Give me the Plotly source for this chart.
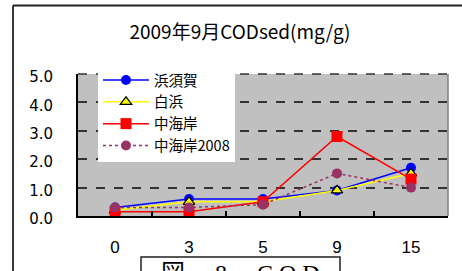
import plotly.graph_objects as go

categories = ["0", "3", "5", "9", "15"]
hamasuka = [0.3, 0.6, 0.6, 0.9, 1.7]
shirahama = [0.2, 0.5, 0.5, 0.9, 1.5]
nakakaigan = [0.15, 0.15, 0.5, 2.8, 1.3]
nakakaigan2008 = [0.3, 0.3, 0.4, 1.5, 1.0]
y_ticks = [0, 1, 2, 3, 4, 5]
y_tick_text = ["0.0", "1.0", "2.0", "3.0", "4.0", "5.0"]

W, H = 462, 271
L, R, T, B = 78, 448, 74, 216

def px(x):
    return (x - L) / (R - L)

def py(y):
    return (B - y) / (B - T)

fig = go.Figure()
fig.add_trace(go.Scatter(x=categories, y=hamasuka, name="浜須賀", mode="lines+markers",
                         line=dict(color="#0000ff", width=1.5),
                         marker=dict(symbol="circle", size=10, color="#0000ff")))
fig.add_trace(go.Scatter(x=categories, y=shirahama, name="白浜", mode="lines+markers",
                         line=dict(color="#ffff00", width=1.5),
                         marker=dict(symbol="triangle-up", size=10, color="#ffff00",
                                     line=dict(color="black", width=1.2))))
fig.add_trace(go.Scatter(x=categories, y=nakakaigan, name="中海岸", mode="lines+markers",
                         line=dict(color="#ff0000", width=1.5),
                         marker=dict(symbol="square", size=11, color="#ff0000")))
fig.add_trace(go.Scatter(x=categories, y=nakakaigan2008, name="中海岸2008", mode="lines+markers",
                         line=dict(color="#993366", width=1.5, dash="dot"),
                         marker=dict(symbol="circle", size=10, color="#993366")))

shapes = [
    # outer chart border (left and top)
    dict(type="line", xref="paper", yref="paper", x0=px(13), x1=px(13), y0=py(5.5), y1=py(300),
         line=dict(color="#222222", width=1.8)),
    dict(type="line", xref="paper", yref="paper", x0=px(13), x1=px(470), y0=py(5.5), y1=py(5.5),
         line=dict(color="#222222", width=1.8)),
    # right plot edge
    dict(type="line", xref="paper", yref="paper", x0=1, x1=1, y0=0, y1=1,
         line=dict(color="#808080", width=1.5)),
    # top gridline
    dict(type="line", xref="paper", yref="paper", x0=0, x1=1, y0=1, y1=1,
         line=dict(color="#333333", width=1.5, dash="dash"), layer="below"),
    # caption box
    dict(type="rect", xref="paper", yref="paper", x0=px(141), x1=px(340), y0=py(257), y1=py(300),
         line=dict(color="#222222", width=1.5), fillcolor="white"),
]

fig.update_layout(
    width=W, height=H,
    margin=dict(l=L, r=W - R, t=T, b=H - B, pad=0),
    paper_bgcolor="white",
    plot_bgcolor="#c0c0c0",
    font=dict(family="Noto Sans CJK JP", color="black"),
    title=dict(text="2009年9月CODsed(mg/g)", x=240 / W, xanchor="center",
               y=(H - 32) / H, yanchor="middle", yref="container",
               font=dict(size=19, family="Noto Sans CJK JP", color="black")),
    showlegend=True,
    legend=dict(x=px(98), y=py(64), xanchor="left", yanchor="top",
                bgcolor="white", borderwidth=0,
                font=dict(size=14.5, family="Noto Sans CJK JP", color="black"),
                tracegroupgap=0, itemwidth=46),
    shapes=shapes,
    annotations=[
        dict(text="図　 8　 C O D", xref="paper", yref="paper", x=px(240), y=py(258),
             xanchor="center", yanchor="top", showarrow=False,
             font=dict(size=24, family="Liberation Serif, Noto Sans CJK JP", color="black")),
    ],
)

fig.update_xaxes(
    type="category", categoryorder="array", categoryarray=categories,
    showline=True, linecolor="black", linewidth=2,
    showgrid=False, ticks="inside", ticklen=5, tickwidth=1.5, tickcolor="black",
    tickson="boundaries", ticklabelstandoff=15,
    tickfont=dict(size=17, family="Liberation Sans", color="black"),
    range=[-0.5, 4.5],
)
fig.update_yaxes(
    range=[0, 5], tickvals=y_ticks, ticktext=y_tick_text,
    showline=True, linecolor="black", linewidth=2,
    showgrid=True, gridcolor="#333333", gridwidth=1.5, griddash="dash",
    zeroline=False, ticks="", ticklabelstandoff=20, ticklabelshift=3,
    tickfont=dict(size=15, family="DejaVu Sans", color="black"),
)

fig.write_html("out.html", config={"displayModeBar": False},
               post_script="document.body.style.margin='0';document.body.style.overflow='hidden';")
